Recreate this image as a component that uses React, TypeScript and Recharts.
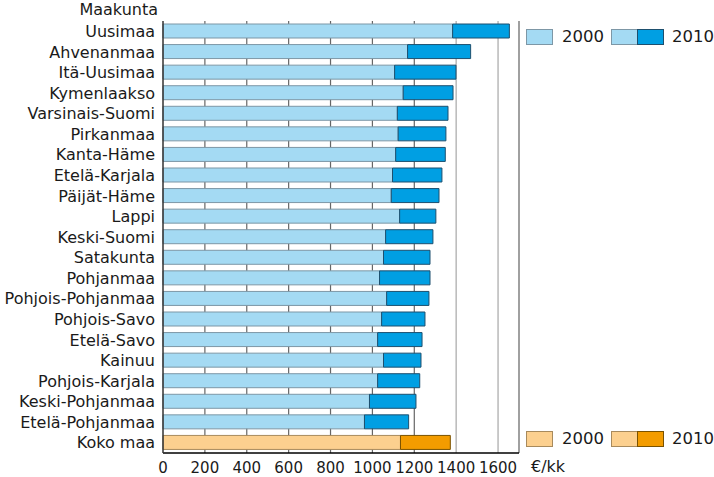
import { BarChart, Bar, XAxis, YAxis, CartesianGrid, ReferenceLine, Cell, Label } from 'recharts';

const regions = [
  'Uusimaa', 'Ahvenanmaa', 'Itä-Uusimaa', 'Kymenlaakso', 'Varsinais-Suomi', 'Pirkanmaa',
  'Kanta-Häme', 'Etelä-Karjala', 'Päijät-Häme', 'Lappi', 'Keski-Suomi', 'Satakunta',
  'Pohjanmaa', 'Pohjois-Pohjanmaa', 'Pohjois-Savo', 'Etelä-Savo', 'Kainuu',
  'Pohjois-Karjala', 'Keski-Pohjanmaa', 'Etelä-Pohjanmaa', 'Koko maa',
];
const values2000 = [
  1383, 1168, 1106, 1147, 1119, 1123, 1111, 1096, 1090, 1130, 1063, 1053,
  1034, 1068, 1044, 1025, 1053, 1025, 986, 962, 1134,
];
const values2010 = [
  1654, 1469, 1399, 1385, 1361, 1351, 1348, 1332, 1318, 1303, 1289, 1275,
  1275, 1270, 1251, 1237, 1232, 1226, 1208, 1173, 1372,
];
const xTicks = [0, 200, 400, 600, 800, 1000, 1200, 1400, 1600];

const TOTAL = 'Koko maa';
const FONT = '"DejaVu Sans", sans-serif';
const TEXT = '#1a1a1a';

const blue = { light: '#a4daf3', dark: '#009fe3', lightEdge: '#7d97a6', darkEdge: '#1d4f6e' };
const orange = { light: '#fcd08f', dark: '#f39c00', lightEdge: '#a88a5c', darkEdge: '#7a5200' };

const data = regions.map((name, i) => ({
  name,
  v2000: values2000[i],
  growth: values2010[i] - values2000[i],
}));

function LegendRow({ top, c }: { top: number; c: typeof blue }) {
  const box = { position: 'absolute' as const, top, height: 16, boxSizing: 'border-box' as const };
  const txt = { position: 'absolute' as const, top: top - 1, fontSize: 16.5, lineHeight: '18px', color: TEXT };
  return (
    <>
      <div style={{ ...box, left: 526, width: 27, background: c.light, border: `1px solid ${c.lightEdge}` }} />
      <div style={{ ...txt, left: 562 }}>2000</div>
      <div style={{ ...box, left: 611, width: 27, background: c.light, border: `1px solid ${c.lightEdge}` }} />
      <div style={{ ...box, left: 637, width: 27, background: c.dark, border: `1px solid ${c.darkEdge}` }} />
      <div style={{ ...txt, left: 672 }}>2010</div>
    </>
  );
}

export default function App() {
  return (
    <div style={{ position: 'absolute', left: 0, top: 0, width: 714, height: 477, background: '#fff', fontFamily: FONT }}>
      <div style={{ position: 'absolute', right: 714 - 158, top: 0, fontSize: 16, color: TEXT, whiteSpace: 'nowrap' }}>
        Maakunta
      </div>
      <BarChart
        width={714}
        height={477}
        data={data}
        layout="vertical"
        margin={{ top: 21, right: 195, bottom: 0, left: 0 }}
        barSize={14}
      >
        <CartesianGrid horizontal={false} vertical verticalValues={[200, 400, 600, 800, 1000, 1200]} stroke="#666" strokeWidth={1.2} />
        <CartesianGrid horizontal={false} vertical verticalValues={[1400, 1600]} stroke="#bdbdbd" strokeWidth={1.6} />
        <XAxis
          type="number"
          domain={[0, 1700]}
          ticks={xTicks}
          interval={0}
          height={24}
          tickLine={false}
          tickMargin={3}
          axisLine={{ stroke: '#000', strokeWidth: 1.5 }}
          tick={{ fill: TEXT, fontSize: 15, fontFamily: FONT }}
        >
          <Label value="€/kk" position="right" offset={12} dy={1} style={{ fill: TEXT, fontSize: 16, fontFamily: FONT }} />
        </XAxis>
        <XAxis
          xAxisId="top"
          orientation="top"
          type="number"
          domain={[0, 1700]}
          height={0}
          tick={false}
          tickLine={false}
          axisLine={{ stroke: '#808080', strokeWidth: 1.5 }}
        />
        <YAxis
          type="category"
          dataKey="name"
          width={163}
          interval={0}
          tickLine={false}
          axisLine={{ stroke: '#333', strokeWidth: 1.5 }}
          tick={{ fill: TEXT, fontSize: 16, fontFamily: FONT }}
        />
        <ReferenceLine x={1700} stroke="#808080" strokeWidth={1.5} ifOverflow="extendDomain" />
        <Bar dataKey="v2000" stackId="a" isAnimationActive={false}>
          {data.map((d) => {
            const c = d.name === TOTAL ? orange : blue;
            return <Cell key={d.name} fill={c.light} stroke={c.lightEdge} strokeWidth={1} />;
          })}
        </Bar>
        <Bar dataKey="growth" stackId="a" isAnimationActive={false}>
          {data.map((d) => {
            const c = d.name === TOTAL ? orange : blue;
            return <Cell key={d.name} fill={c.dark} stroke={c.darkEdge} strokeWidth={1} />;
          })}
        </Bar>
      </BarChart>
      <LegendRow top={29} c={blue} />
      <LegendRow top={431} c={orange} />
    </div>
  );
}
